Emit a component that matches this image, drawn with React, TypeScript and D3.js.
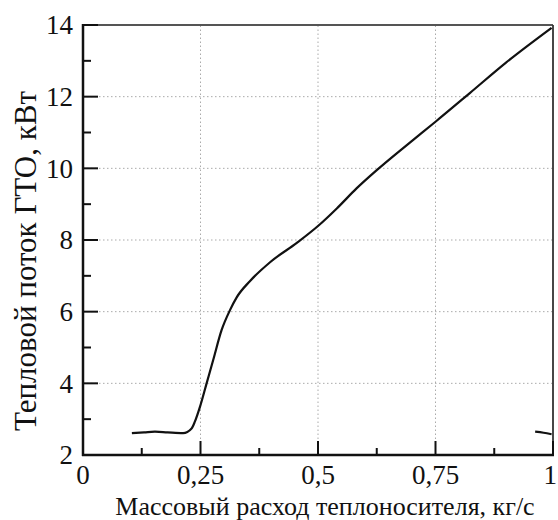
import React from "react";
import * as d3 from "d3";

// Mass flow rate, kg/s
const flowMain = [
  0.104, 0.13, 0.153, 0.18, 0.213, 0.231, 0.238, 0.249, 0.263, 0.277, 0.295,
  0.313, 0.327, 0.355, 0.398, 0.455, 0.5, 0.54, 0.582, 0.625, 0.689, 0.75,
  0.823, 0.9, 0.997,
];
// Heat flow, kW
const heatMain = [
  2.61, 2.63, 2.65, 2.63, 2.61, 2.74, 2.93, 3.35, 4.0, 4.65, 5.49, 6.05, 6.4,
  6.85, 7.38, 7.92, 8.39, 8.88, 9.44, 9.95, 10.65, 11.3, 12.1, 12.95, 13.92,
];
// short fragment at the right edge
const flowTail = [0.962, 0.98, 0.997];
const heatTail = [2.65, 2.62, 2.58];

const xMajor = [0, 0.25, 0.5, 0.75, 1];
const xMajorLabels = ["0", "0,25", "0,5", "0,75", "1"];
const xMinor = [0.125, 0.375, 0.625, 0.875];
const yMajor = [2, 4, 6, 8, 10, 12, 14];
const yMinor = [3, 5, 7, 9, 11, 13];
const xGrid = [0.25, 0.5, 0.75];
const yGrid = [4, 6, 8, 10, 12];

const W = 558;
const H = 520;
const margin = { left: 83, right: 5, top: 25, bottom: 65 };
const font = "'Liberation Serif', 'DejaVu Serif', serif";

export default function App() {
  const x = d3.scaleLinear().domain([0, 1]).range([margin.left, W - margin.right]);
  const y = d3.scaleLinear().domain([2, 14]).range([H - margin.bottom, margin.top]);

  const line = d3
    .line<[number, number]>()
    .x((d) => x(d[0]))
    .y((d) => y(d[1]))
    .curve(d3.curveMonotoneX);

  const mainPts = flowMain.map((f, i) => [f, heatMain[i]] as [number, number]);
  const tailPts = flowTail.map((f, i) => [f, heatTail[i]] as [number, number]);

  const x0 = x(0);
  const x1 = x(1);
  const y0 = y(2);
  const y1 = y(14);

  return (
    <svg
      width={W}
      height={H}
      fontFamily={font}
      style={{ position: "absolute", left: 0, top: 0, background: "#fff" }}
    >
      {/* grid */}
      <g stroke="#aaa" strokeWidth={1} strokeDasharray="1.5,2.5">
        {xGrid.map((v) => (
          <line key={"gx" + v} x1={x(v)} x2={x(v)} y1={y0} y2={y1} />
        ))}
        {yGrid.map((v) => (
          <line key={"gy" + v} x1={x0} x2={x1} y1={y(v)} y2={y(v)} />
        ))}
      </g>

      {/* top and right frame */}
      <line x1={x0} x2={x1} y1={y1} y2={y1} stroke="#555" strokeWidth={2} />
      <line x1={x1} x2={x1} y1={y1} y2={y0} stroke="#333" strokeWidth={1.8} />

      {/* curves */}
      <path d={line(mainPts) || ""} fill="none" stroke="#111" strokeWidth={2.2} />
      <path d={line(tailPts) || ""} fill="none" stroke="#111" strokeWidth={2.2} />

      {/* ticks */}
      <g stroke="#111" strokeWidth={2}>
        {yMajor.map((v) => (
          <line key={"ym" + v} x1={x0} x2={x0 + 15} y1={y(v)} y2={y(v)} />
        ))}
        {yMinor.map((v) => (
          <line key={"yn" + v} x1={x0} x2={x0 + 8} y1={y(v)} y2={y(v)} />
        ))}
        {xMajor.map((v) => (
          <line key={"xm" + v} x1={x(v)} x2={x(v)} y1={y0} y2={y0 - 14} />
        ))}
        {xMinor.map((v) => (
          <line key={"xn" + v} x1={x(v)} x2={x(v)} y1={y0} y2={y0 - 7} />
        ))}
      </g>

      {/* left and bottom axes */}
      <line x1={x0} x2={x0} y1={y1 - 1} y2={y0 + 1} stroke="#111" strokeWidth={2.5} />
      <line x1={x0 - 1} x2={x1 + 1} y1={y0} y2={y0} stroke="#111" strokeWidth={2.5} />

      {/* tick labels */}
      <g fontSize={27} fill="#111">
        {yMajor.map((v) => (
          <text key={"yl" + v} x={x0 - 10} y={y(v)} dy="0.35em" textAnchor="end">
            {v}
          </text>
        ))}
        {xMajor.map((v, i) => {
          const last = i === xMajor.length - 1;
          return (
            <text
              key={"xl" + v}
              x={last ? W - 1 : x(v)}
              y={y0 + 29}
              textAnchor={last ? "end" : "middle"}
            >
              {xMajorLabels[i]}
            </text>
          );
        })}
      </g>

      {/* axis titles */}
      <text x={325} y={H - 5} textAnchor="middle" fontSize={26} fill="#111">
        Массовый расход теплоносителя, кг/с
      </text>
      <text
        transform={`translate(36, ${(85 + 437) / 2}) rotate(-90)`}
        textAnchor="middle"
        fontSize={31}
        fill="#111"
      >
        Тепловой поток ГТО, кВт
      </text>
    </svg>
  );
}
